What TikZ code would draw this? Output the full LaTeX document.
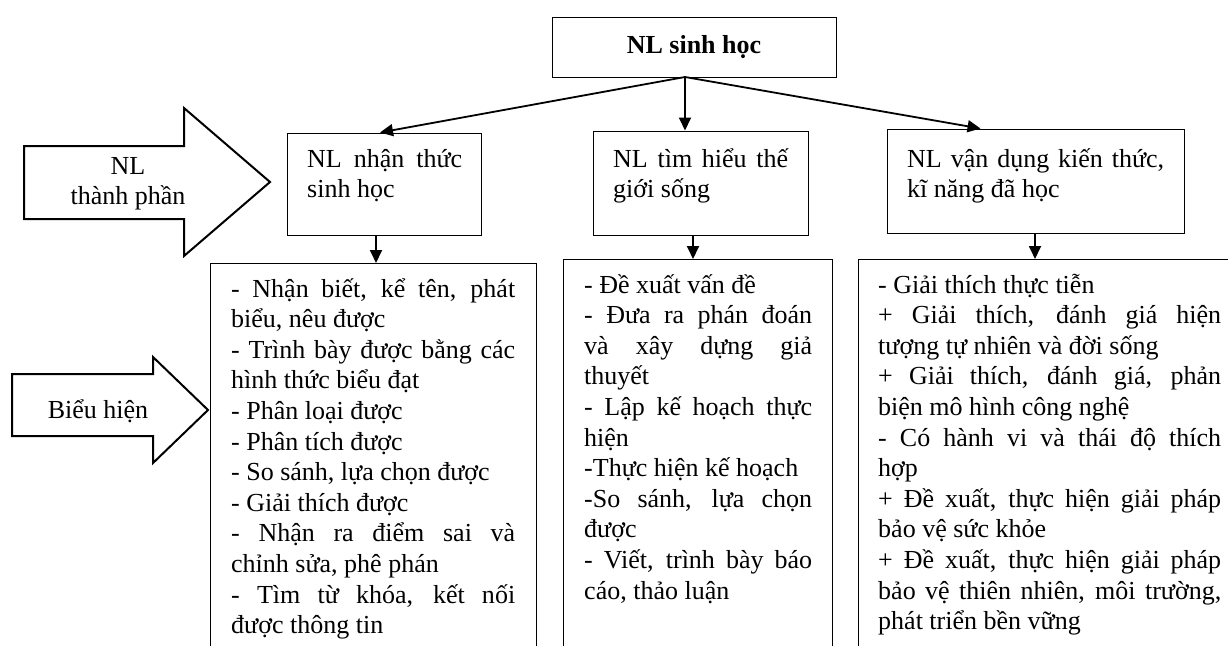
\documentclass[tikz,border=0pt]{standalone}
\usepackage{fontspec}
\setmainfont{Liberation Serif}
\usetikzlibrary{arrows.meta}
\newcommand\jline[1]{\makebox[\linewidth][s]{#1}}
\newcommand\boxtext[2]{\parbox[t]{#1}{\setlength\lineskiplimit{-100pt}\setlength\parindent{0pt}#2}}
\begin{document}
\begin{tikzpicture}[x=1pt,y=-1pt,
  box/.style={draw, line width=1pt, inner sep=0pt},
  conn/.style={line width=1.8pt, -{Triangle[length=13pt,width=12pt]}},
  openbox/.style={line width=1pt},
  bigarrow/.style={draw, line width=2pt, line join=miter},
  txt/.style={anchor=base west, inner sep=0pt, font=\fontsize{26}{30.6}\selectfont},
  ctxt/.style={anchor=base, inner sep=0pt, font=\fontsize{26}{30.6}\selectfont},
]
\useasboundingbox (0,0) rectangle (1228,646);

% top box
\node[box, minimum width=284pt, minimum height=60pt, text height=17pt, text depth=4pt,
      font=\fontsize{26}{30.6}\selectfont\bfseries] (top) at (694,47) {NL sinh học};
\coordinate (o) at (685,77);

% component boxes
\node[box, minimum width=194pt, minimum height=102pt] (b1) at (384,184) {};
\node[box, minimum width=215pt, minimum height=104pt] (b2) at (700.5,183) {};
\node[box, minimum width=297pt, minimum height=104pt] (b3) at (1035.5,181) {};

\node[txt] (b1t) at (307,167) {\boxtext{155pt}{\jline{NL nhận thức}\\ sinh học}};
\node[txt] (b2t) at (613,167) {\boxtext{175pt}{\jline{NL tìm hiểu thế}\\ giới sống}};
\node[txt] (b3t) at (907,167) {\boxtext{257pt}{\jline{NL vận dụng kiến thức,}\\ kĩ năng đã học}};

\draw[conn] (o) -- ([xshift=-4pt]b1.north);
\draw[conn] (o) -- (o |- b2.north);
\draw[conn] (o) -- ([xshift=-55pt]b3.north);

% lower open boxes
\coordinate (p1) at (210,263);
\coordinate (q1) at (536,263);
\coordinate (p2) at (563,259);
\coordinate (q2) at (832,259);
\coordinate (p3) at (858,259);
\coordinate (q3) at (1240,259);
\draw[openbox] (p1 |- 0,646) -- (p1) -- (q1) -- (q1 |- 0,646);
\draw[openbox] (p2 |- 0,646) -- (p2) -- (q2) -- (q2 |- 0,646);
\draw[openbox] (p3 |- 0,646) -- (p3) -- (q3);

\coordinate (d1) at (376,235);
\coordinate (d2) at (693,235);
\coordinate (d3) at (1035,233);
\draw[conn] (d1) -- (d1 |- p1);
\draw[conn] (d2) -- (d2 |- p2);
\draw[conn] (d3) -- (d3 |- p3);

\node[txt] (l1) at (231,297) {\boxtext{284pt}{%
\jline{- Nhận biết, kể tên, phát}\\
biểu, nêu được\\
\jline{- Trình bày được bằng các}\\
hình thức biểu đạt\\
- Phân loại được\\
- Phân tích được\\
- So sánh, lựa chọn được\\
- Giải thích được\\
\jline{- Nhận ra điểm sai và}\\
chỉnh sửa, phê phán\\
\jline{- Tìm từ khóa, kết nối}\\
được thông tin}};

\node[txt] (l2) at (584,293) {\boxtext{228pt}{%
- Đề xuất vấn đề\\
\jline{- Đưa ra phán đoán}\\
\jline{và xây dựng giả}\\
thuyết\\
\jline{- Lập kế hoạch thực}\\
hiện\\
-Thực hiện kế hoạch\\
\jline{-So sánh, lựa chọn}\\
được\\
\jline{- Viết, trình bày báo}\\
cáo, thảo luận}};

\node[txt] (l3) at (878,293) {\boxtext{343pt}{%
- Giải thích thực tiễn\\
\jline{+ Giải thích, đánh giá hiện}\\
tượng tự nhiên và đời sống\\
\jline{+ Giải thích, đánh giá, phản}\\
biện mô hình công nghệ\\
\jline{- Có hành vi và thái độ thích}\\
hợp\\
\jline{+ Đề xuất, thực hiện giải pháp}\\
bảo vệ sức khỏe\\
\jline{+ Đề xuất, thực hiện giải pháp}\\
\jline{bảo vệ thiên nhiên, môi trường,}\\
phát triển bền vững}};

% big block arrows
\draw[bigarrow] (24,146) -- (184,146) -- (184,108) -- (270,182) -- (184,256) -- (184,219) -- (24,219) -- cycle;
\node[ctxt] (a1t) at (128,174) {\parbox[t]{160pt}{\centering\setlength\lineskiplimit{-100pt}NL\\ thành phần}};

\draw[bigarrow] (12,374) -- (153,374) -- (153,357) -- (208,410) -- (153,463) -- (153,436) -- (12,436) -- cycle;
\node[ctxt] (a2t) at (98,418) {Biểu hiện};
\end{tikzpicture}
\end{document}
